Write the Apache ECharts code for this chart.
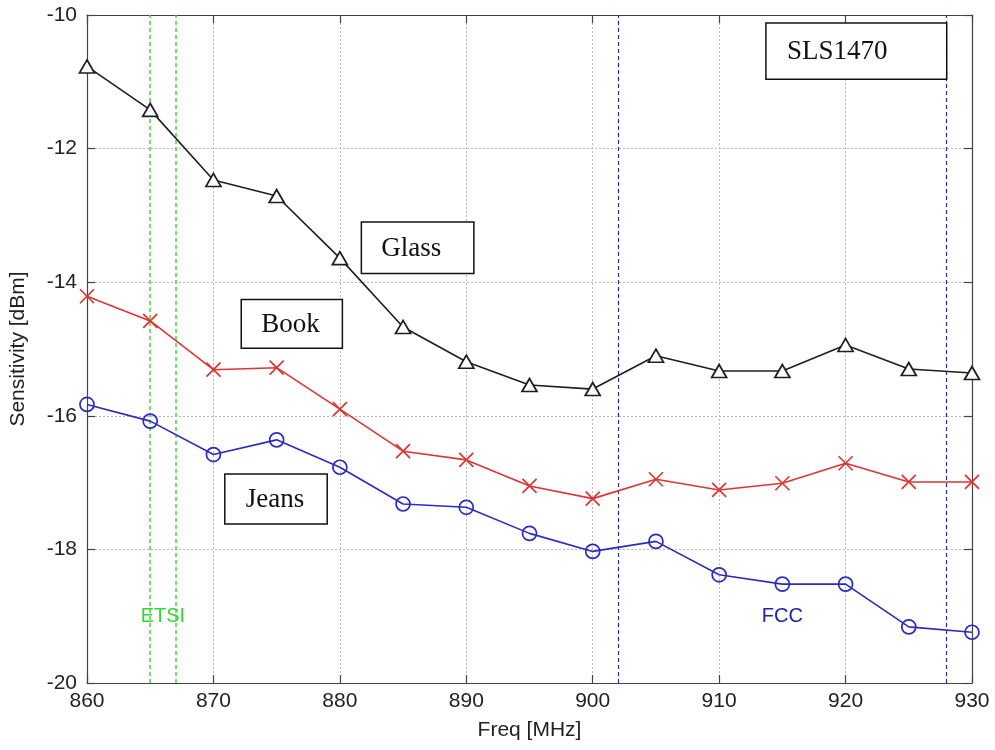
<!DOCTYPE html>
<html>
<head>
<meta charset="utf-8">
<script src="https://cdn.jsdelivr.net/npm/echarts@6/dist/echarts.min.js"></script>
<style>
  html, body { margin: 0; padding: 0; background: #fff; }
  #chart { width: 995px; height: 750px; }
</style>
</head>
<body>
<div id="chart"></div>
<script>
// ---- data ----
const freqs = [860, 865, 870, 875, 880, 885, 890, 895, 900, 905, 910, 915, 920, 925, 930];
const glass = [-10.77, -11.42, -12.47, -12.71, -13.64, -14.67, -15.19, -15.54, -15.60, -15.10, -15.33, -15.33, -14.94, -15.30, -15.36];
const book  = [-14.21, -14.58, -15.31, -15.28, -15.90, -16.53, -16.66, -17.05, -17.24, -16.95, -17.11, -17.01, -16.71, -16.99, -16.99];
const jeans = [-15.83, -16.08, -16.58, -16.36, -16.77, -17.32, -17.37, -17.76, -18.03, -17.88, -18.38, -18.52, -18.52, -19.16, -19.24];
const etsiBand = [865, 867];
const fccBand = [902, 928];
const xTicks = [860, 870, 880, 890, 900, 910, 920, 930];
const yTicks = [-20, -18, -16, -14, -12, -10];
const bandLabels = ['ETSI', 'FCC'];
const boxLabels = ['Glass', 'Book', 'Jeans', 'SLS1470'];

const chart = echarts.init(document.getElementById('chart'), null, { renderer: 'canvas' });

const tickFont = { fontFamily: 'Liberation Sans, Arial, sans-serif', fontSize: 21, color: '#222' };
const gridLine = { show: true, lineStyle: { color: '#b8b8b8', type: [2, 2], width: 1 } };
const axisLine = { show: true, lineStyle: { color: '#444', width: 1.2 } };
const tick = { show: true, inside: true, length: 8, lineStyle: { color: '#444', width: 1.2 } };

function pair(series) { return freqs.map((f, k) => [f, series[k]]); }

const crossPath = 'path://M0,0L10,10M10,0L0,10';

const option = {
  animation: false,
  backgroundColor: '#fff',
  grid: { left: 87, right: 23, top: 15, bottom: 67 },
  xAxis: [
    {
      type: 'value', min: xTicks[0], max: xTicks[xTicks.length - 1], interval: 10,
      name: 'Freq [MHz]', nameLocation: 'middle', nameGap: 37,
      nameTextStyle: { fontFamily: 'Liberation Sans, Arial, sans-serif', fontSize: 21, color: '#222' },
      axisLine: axisLine, axisTick: tick, splitLine: gridLine,
      axisLabel: Object.assign({ margin: 8 }, tickFont)
    },
    {
      type: 'value', position: 'top', min: xTicks[0], max: xTicks[xTicks.length - 1], interval: 10,
      axisLine: axisLine, axisTick: tick, splitLine: { show: false }, axisLabel: { show: false }
    }
  ],
  yAxis: [
    {
      type: 'value', min: yTicks[0], max: yTicks[yTicks.length - 1], interval: 2,
      name: 'Sensitivity [dBm]', nameLocation: 'middle', nameGap: 58,
      nameTextStyle: { fontFamily: 'Liberation Sans, Arial, sans-serif', fontSize: 21, color: '#222' },
      axisLine: axisLine, axisTick: tick, splitLine: gridLine,
      axisLabel: Object.assign({ margin: 10 }, tickFont)
    },
    {
      type: 'value', position: 'right', min: yTicks[0], max: yTicks[yTicks.length - 1], interval: 2,
      axisLine: axisLine, axisTick: tick, splitLine: { show: false }, axisLabel: { show: false }
    }
  ],
  series: [
    {
      name: 'Glass', type: 'line', data: pair(glass),
      symbol: 'triangle', symbolSize: [15, 13],
      lineStyle: { color: '#1e1e1e', width: 1.6 },
      itemStyle: { color: '#fff', borderColor: '#1e1e1e', borderWidth: 1.7 },
      z: 5,
      markLine: {
        silent: true, symbol: 'none', label: { show: false },
        lineStyle: { color: '#2b2bb0', type: [4, 3], width: 1.2 },
        data: fccBand.map(v => ({ xAxis: v }))
      }
    },
    {
      name: 'Book', type: 'line', data: pair(book),
      symbol: crossPath, symbolSize: 14,
      lineStyle: { color: '#e03434', width: 1.6 },
      itemStyle: { color: 'none', borderColor: '#e03434', borderWidth: 1.7 },
      z: 5,
      markLine: {
        silent: true, symbol: 'none', label: { show: false },
        lineStyle: { color: '#3ddc3d', type: [4, 3], width: 1.5 },
        data: etsiBand.map(v => ({ xAxis: v }))
      }
    },
    {
      name: 'Jeans', type: 'line', data: pair(jeans),
      symbol: 'circle', symbolSize: 14,
      lineStyle: { color: '#2a2ac4', width: 1.6 },
      itemStyle: { color: 'rgba(255,255,255,0)', borderColor: '#2a2ac4', borderWidth: 1.7 },
      z: 5
    }
  ]
};

chart.setOption(option);

const graphics = [];
// band labels anchored in data coordinates
const bandAnchors = [
  { text: bandLabels[0], at: [866, -19.0], color: '#33d633' },
  { text: bandLabels[1], at: [915, -19.0], color: '#2020a8' }
];
bandAnchors.forEach(b => {
  const p = chart.convertToPixel({ gridIndex: 0 }, b.at);
  graphics.push({
    type: 'text', z: 50, x: p[0], y: p[1],
    style: { text: b.text, fill: b.color, font: '20px "Liberation Sans", Arial, sans-serif',
             textAlign: 'center', textVerticalAlign: 'middle' }
  });
});

// annotation boxes (data-coordinate anchors: left/top corner, right/bottom corner)
const boxes = [
  { text: boxLabels[0], tl: [881.7, -13.10], br: [890.6, -13.87], padL: 20 },
  { text: boxLabels[1], tl: [872.2, -14.26], br: [880.2, -14.99], padL: 20 },
  { text: boxLabels[2], tl: [870.9, -16.87], br: [879.0, -17.62], padL: 21 },
  { text: boxLabels[3], tl: [913.7, -10.12], br: [928.0, -10.96], padL: 21 }
];
boxes.forEach(b => {
  const p1 = chart.convertToPixel({ gridIndex: 0 }, b.tl);
  const p2 = chart.convertToPixel({ gridIndex: 0 }, b.br);
  graphics.push({
    type: 'rect', z: 100,
    shape: { x: p1[0], y: p1[1], width: p2[0] - p1[0], height: p2[1] - p1[1] },
    style: { fill: '#fff', stroke: '#111', lineWidth: 1.5 }
  });
  graphics.push({
    type: 'text', z: 101,
    x: p1[0] + b.padL, y: (p1[1] + p2[1]) / 2 + 1,
    style: { text: b.text, fill: '#111', font: '27px "Liberation Serif", "Times New Roman", serif',
             textAlign: 'left', textVerticalAlign: 'middle' }
  });
});
chart.setOption({ graphic: graphics });
</script>
</body>
</html>
